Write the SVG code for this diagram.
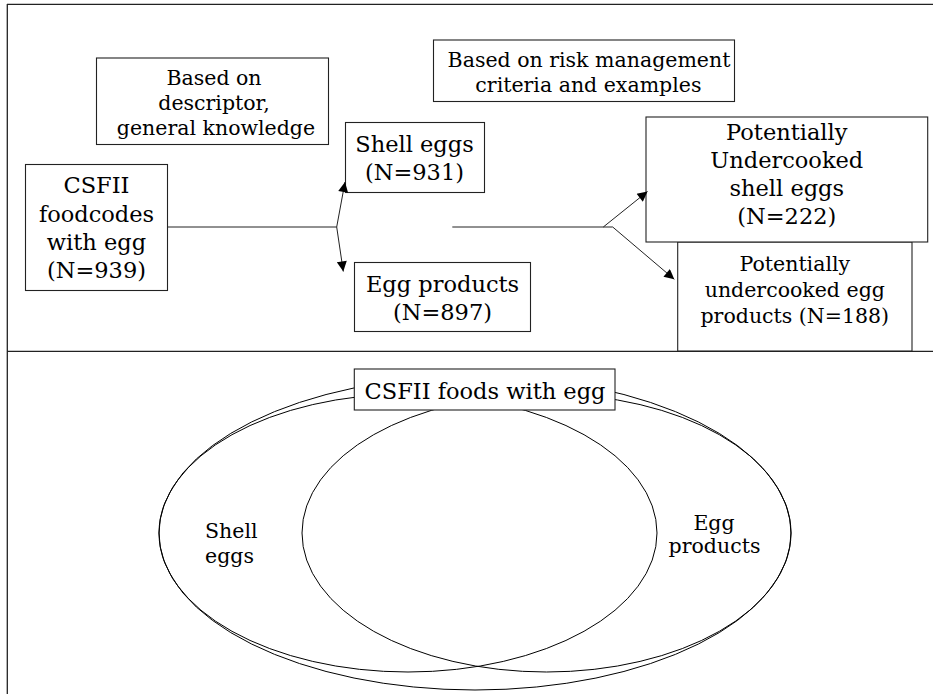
<svg xmlns="http://www.w3.org/2000/svg" width="933" height="694" viewBox="0 0 933 694">
<style>
.frame{stroke:#222;stroke-width:1.3;fill:none}
.box{fill:#fff;stroke:#222;stroke-width:1.1}
.ell{fill:none;stroke:#000;stroke-width:1}
.conn{stroke:#222;stroke-width:1;fill:none}
text{font-family:"DejaVu Serif","Liberation Serif",serif;fill:#000;text-anchor:middle}
.a{font-size:22.5px}
.b{font-size:20.5px}
.v{font-size:20.5px}
</style>
<defs>
<marker id="arr" viewBox="0 0 10 10" refX="10" refY="5" markerWidth="12" markerHeight="10" markerUnits="userSpaceOnUse" orient="auto">
<path d="M0,0 L10,5 L0,10 Z" fill="#000"/>
</marker>
</defs>
<g id="frame">
<line class="frame" x1="7" y1="4.3" x2="933" y2="4.3"/>
<line class="frame" x1="7.3" y1="4" x2="7.3" y2="694"/>
<line class="frame" x1="7" y1="351.3" x2="933" y2="351.3"/>
</g>
<g id="note-descriptor">
<rect class="box" x="96.5" y="58" width="232" height="86.5"/>
<text class="b" x="214" y="85">Based on</text>
<text class="b" x="214" y="110">descriptor,</text>
<text class="b" x="216" y="135">general knowledge</text>
</g>
<g id="note-risk">
<rect class="box" x="433.5" y="40" width="301" height="61.5"/>
<text class="b" x="589" y="66.7">Based on risk management</text>
<text class="b" x="588.4" y="91.7">criteria and examples</text>
</g>
<g id="csfii">
<rect class="box" x="25.5" y="164.5" width="142" height="126"/>
<text class="a" x="96.5" y="193.3">CSFII</text>
<text class="a" x="96.5" y="221.7">foodcodes</text>
<text class="a" x="96.5" y="250">with egg</text>
<text class="a" x="96.5" y="278.3">(N=939)</text>
</g>
<g id="shell-eggs">
<rect class="box" x="345.5" y="122.5" width="139" height="70"/>
<text class="a" x="414.5" y="151.7">Shell eggs</text>
<text class="a" x="414.5" y="180">(N=931)</text>
</g>
<g id="egg-products">
<rect class="box" x="354.5" y="262.5" width="176" height="69"/>
<text class="a" x="442.5" y="291.7">Egg products</text>
<text class="a" x="442.5" y="320">(N=897)</text>
</g>
<g id="undercooked-egg-products">
<rect class="box" x="677.7" y="242" width="234.3" height="109"/>
<text class="b" x="794.8" y="270.7">Potentially</text>
<text class="b" x="794.8" y="297.3">undercooked egg</text>
<text class="b" x="794.8" y="322.7">products (N=188)</text>
</g>
<g id="undercooked-shell-eggs">
<rect class="box" x="646" y="117" width="281.7" height="125"/>
<text class="a" x="786.8" y="140">Potentially</text>
<text class="a" x="786.8" y="168.3">Undercooked</text>
<text class="a" x="786.8" y="196">shell eggs</text>
<text class="a" x="786.8" y="224">(N=222)</text>
</g>
<g id="connectors">
<polyline class="conn" points="167.7,227 336.7,227"/>
<line class="conn" x1="336.7" y1="227" x2="345" y2="182" marker-end="url(#arr)"/>
<line class="conn" x1="336.7" y1="227" x2="343.3" y2="271.5" marker-end="url(#arr)"/>
<polyline class="conn" points="452.3,227 612.7,227"/>
<line class="conn" x1="603.3" y1="227" x2="647.5" y2="191.5" marker-end="url(#arr)"/>
<line class="conn" x1="612.7" y1="227" x2="674.3" y2="279.3" marker-end="url(#arr)"/>
</g>
<g id="venn">
<ellipse class="ell" cx="475" cy="533" rx="316" ry="157"/>
<ellipse class="ell" cx="408" cy="533" rx="249" ry="139"/>
<ellipse class="ell" cx="546.5" cy="533" rx="244.5" ry="139"/>
<text class="v" style="text-anchor:start" x="205" y="538.3">Shell</text>
<text class="v" style="text-anchor:start" x="205" y="562.7">eggs</text>
<text class="v" x="714" y="530">Egg</text>
<text class="v" x="714.5" y="553.3">products</text>
</g>
<g id="venn-title">
<rect class="box" x="354.3" y="369" width="260.7" height="41"/>
<text class="a" x="485" y="399.3">CSFII foods with egg</text>
</g>
</svg>
